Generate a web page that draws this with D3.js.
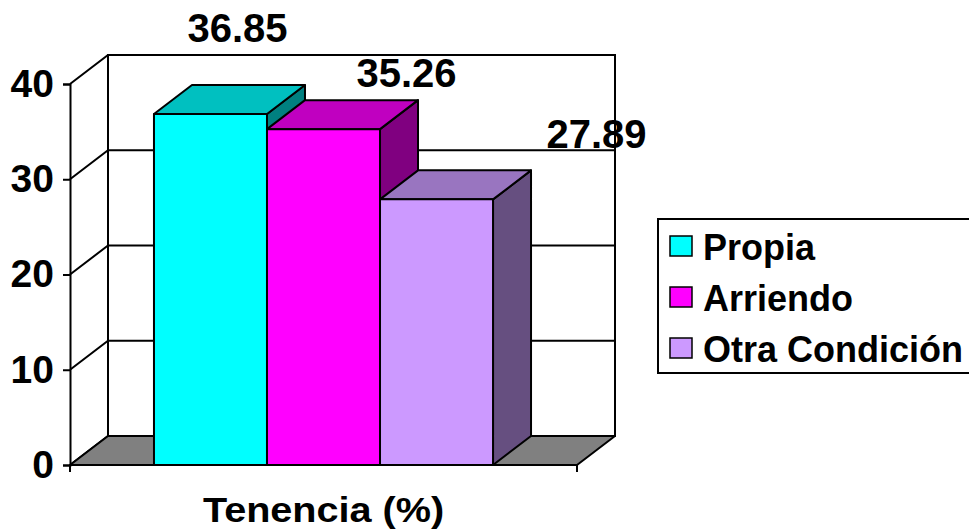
<!DOCTYPE html>
<html>
<meta charset="utf-8">
<head>
<style>
body { margin: 0; background: #fff; }
text { font-family: "Liberation Sans", Arial, sans-serif; font-weight: bold; fill: #000; }
</style>
</head>
<body>
<svg width="969" height="531"></svg>
<script src="https://cdn.jsdelivr.net/npm/d3@7/dist/d3.min.js"></script>
<script>

// data
var category = "Tenencia (%)";
var series = ["Propia", "Arriendo", "Otra Condición"];
var values = [36.85, 35.26, 27.89];
var yTicks = [0, 10, 20, 30, 40];

// front / top / side colours for each series
var fronts = ["#00ffff", "#ff00ff", "#cc99ff"];
var tops   = ["#00c0c0", "#c000c0", "#9975c0"];
var sides  = ["#008080", "#800080", "#664f80"];

var svg = d3.select("svg");

// projection: front plane + depth offset
var depth = {dx: 38, dy: -29};
var x0 = 70, x1 = 577;

var y = d3.scaleLinear().domain([0, 40]).range([465, 84]);
var x = d3.scaleBand().domain(series).range([x0, x1])
    .paddingInner(0).paddingOuter(0.743);

function pts(a) { return a.map(function(p) { return p.join(","); }).join(" "); }

var g = svg.append("g");

// back wall
g.append("rect")
    .attr("x", x0 + depth.dx).attr("y", y(40) + depth.dy)
    .attr("width", x1 - x0).attr("height", y(0) - y(40))
    .attr("fill", "#fff").attr("stroke", "#000").attr("stroke-width", 2);

// gridlines (left wall diagonal + back wall)
yTicks.forEach(function(t) {
  g.append("polyline")
      .attr("points", pts([[x0, y(t)], [x0 + depth.dx, y(t) + depth.dy], [x1 + depth.dx, y(t) + depth.dy]]))
      .attr("fill", "none").attr("stroke", "#000").attr("stroke-width", 2);
});

// floor
g.append("polygon")
    .attr("points", pts([[x0, y(0)], [x0 + depth.dx, y(0) + depth.dy],
                         [x1 + depth.dx, y(0) + depth.dy], [x1, y(0)]]))
    .attr("fill", "#808080").attr("stroke", "#000").attr("stroke-width", 2)
    .attr("stroke-linejoin", "round");

// y axis
var axis = g.append("g").attr("transform", "translate(" + x0 + ",0)")
    .call(d3.axisLeft(y).tickValues(yTicks).tickSize(7).tickPadding(9));
axis.select(".domain").attr("stroke-width", 2);
axis.selectAll(".tick line").attr("stroke-width", 2);
axis.selectAll(".tick text").attr("font-size", 39).attr("font-family", null);

// bottom ticks at the ends of the floor edge
[x0, x1].forEach(function(xx) {
  g.append("line").attr("x1", xx).attr("x2", xx).attr("y1", y(0)).attr("y2", y(0) + 7)
      .attr("stroke", "#000").attr("stroke-width", 2);
});

// bars
var bw = x.bandwidth();
series.forEach(function(s, i) {
  var xl = x(s), xr = xl + bw, yt = y(values[i]), yb = y(0);
  var bar = g.append("g").attr("stroke", "#000").attr("stroke-width", 2)
      .attr("stroke-linejoin", "round");
  bar.append("polygon")
      .attr("points", pts([[xr, yt], [xr + depth.dx, yt + depth.dy], [xr + depth.dx, yb + depth.dy], [xr, yb]]))
      .attr("fill", sides[i]);
  bar.append("polygon")
      .attr("points", pts([[xl, yt], [xl + depth.dx, yt + depth.dy], [xr + depth.dx, yt + depth.dy], [xr, yt]]))
      .attr("fill", tops[i]);
  bar.append("rect")
      .attr("x", xl).attr("y", yt).attr("width", bw).attr("height", yb - yt)
      .attr("fill", fronts[i]);
});

// value labels (nudged like the original layout)
var labelNudge = [[27, -72], [83, -42], [160, -51]];
var fmt = d3.format(".2f");
series.forEach(function(s, i) {
  g.append("text")
      .attr("x", x(s) + bw / 2 + labelNudge[i][0])
      .attr("y", y(values[i]) + labelNudge[i][1])
      .attr("text-anchor", "middle")
      .attr("font-size", 40)
      .text(fmt(values[i]));
});

// category title
g.append("text")
    .attr("x", (x0 + x1) / 2).attr("y", 522)
    .attr("text-anchor", "middle")
    .attr("font-size", 36)
    .attr("transform", "translate(" + ((x0 + x1) / 2) + ",0) scale(1.1,1) translate(" + (-(x0 + x1) / 2) + ",0)")
    .text(category);

// legend
var lg = svg.append("g").attr("transform", "translate(658,219)");
lg.append("rect").attr("width", 330).attr("height", 154)
    .attr("fill", "#fff").attr("stroke", "#000").attr("stroke-width", 2);
series.forEach(function(s, i) {
  var row = lg.append("g").attr("transform", "translate(0," + (i * 51) + ")");
  row.append("rect").attr("x", 12).attr("y", 17).attr("width", 22).attr("height", 20)
      .attr("fill", fronts[i]).attr("stroke", "#000").attr("stroke-width", 1.5);
  row.append("text").attr("x", 45).attr("y", 41).attr("font-size", 36).text(s);
});

</script>
</body>
</html>
